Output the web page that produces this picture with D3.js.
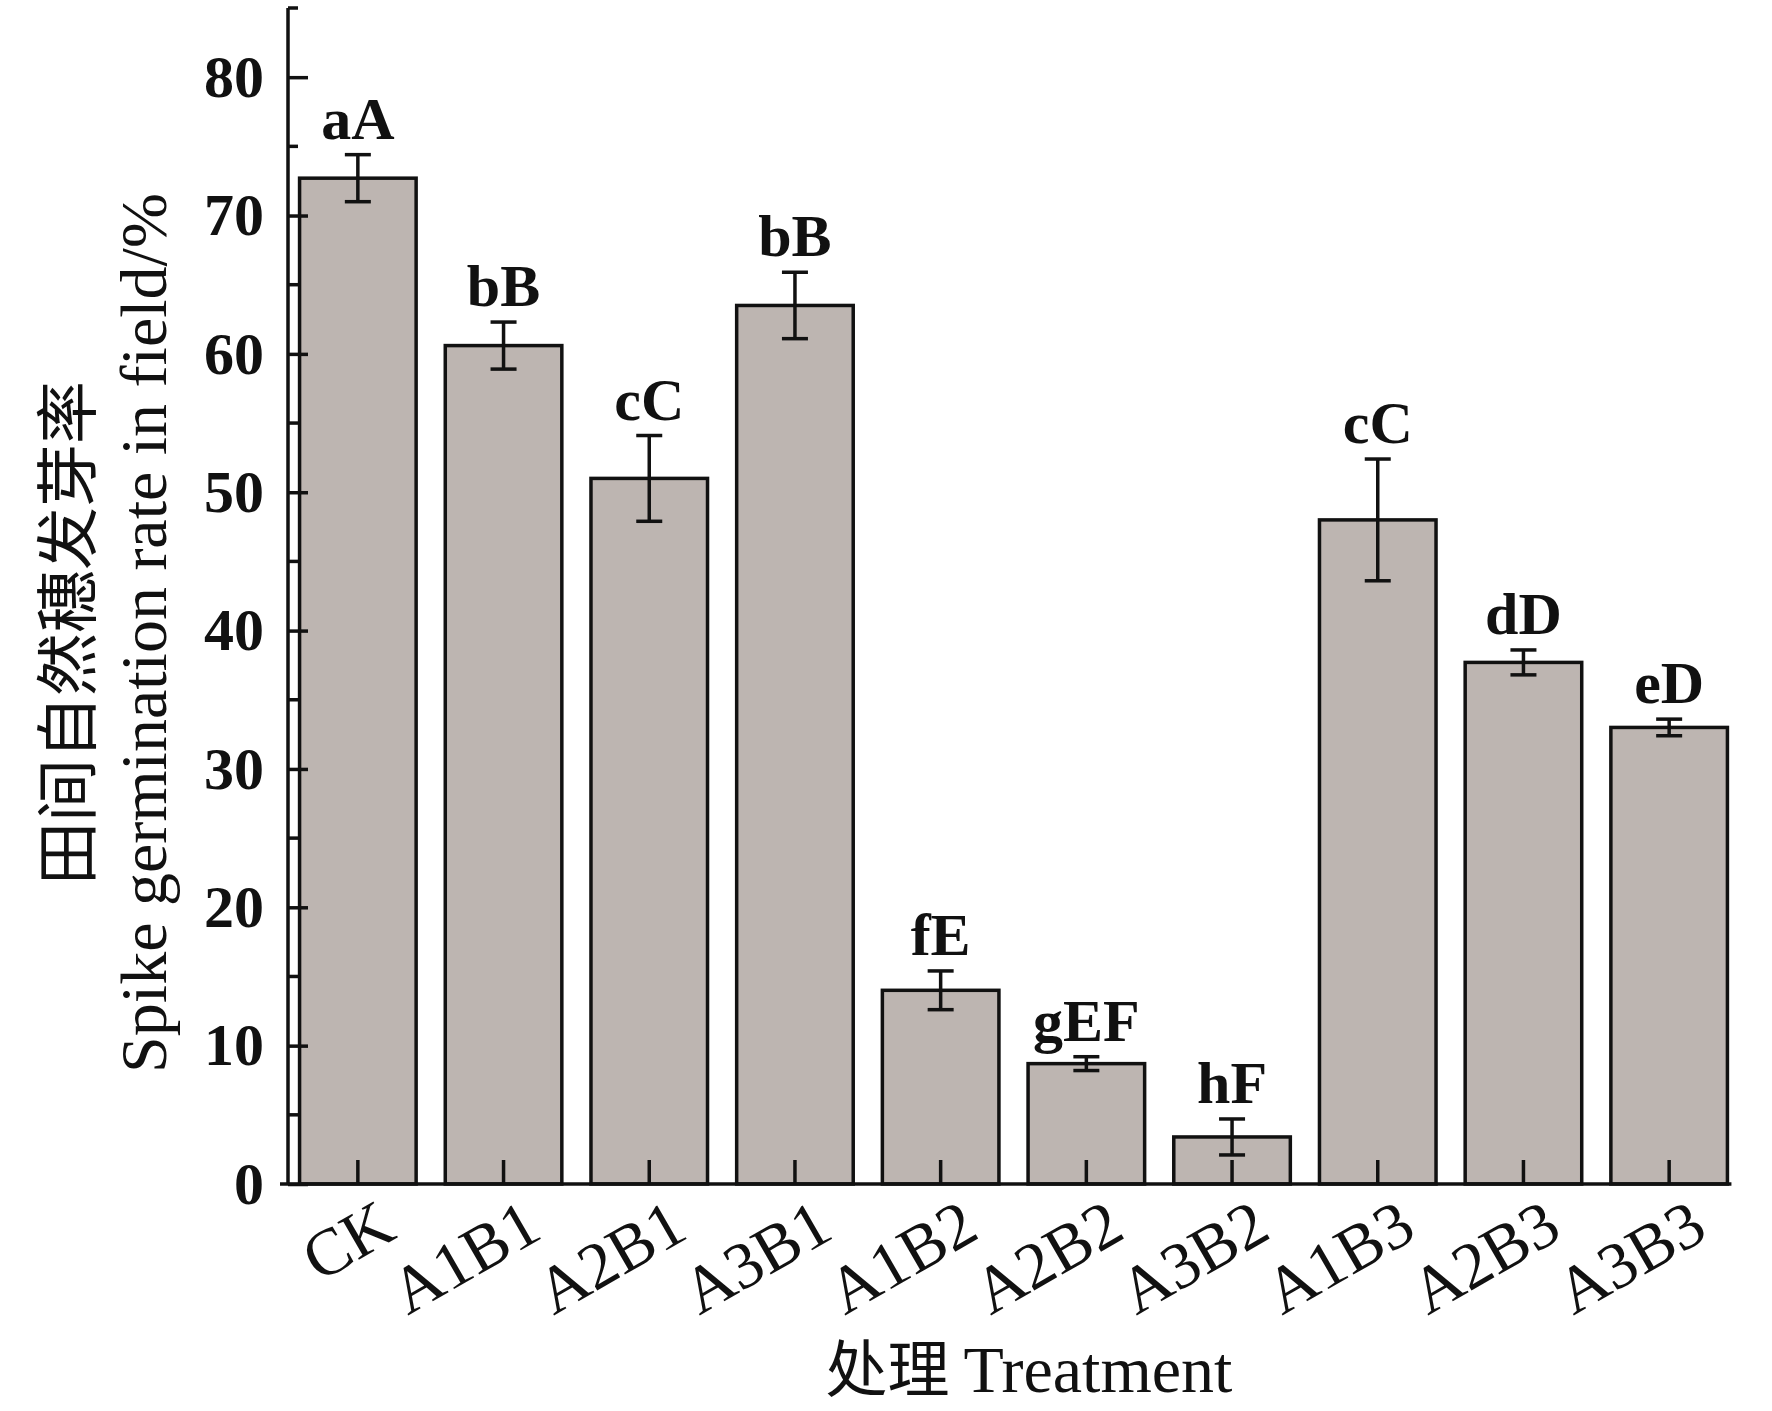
<html>
  <head>
    <meta charset="utf-8">
    <script src="https://d3js.org/d3.v7.min.js"></script>
    <style>
      body { margin: 0; background: #fff; }
      text { font-family: "Liberation Serif", "Times New Roman", serif; fill: #111; }
      .cjk { font-family: "Noto Sans CJK SC", sans-serif; }
    </style>
  </head>
  <body>
    <div id="my_dataviz"></div>
  </body>

  <script>
    // data
    const treatments = ['CK', 'A1B1', 'A2B1', 'A3B1', 'A1B2', 'A2B2', 'A3B2', 'A1B3', 'A2B3', 'A3B3']
    const rates = [72.7, 60.6, 51.0, 63.5, 14.0, 8.7, 3.4, 48.0, 37.7, 33.0]
    const errs = [1.7, 1.7, 3.1, 2.4, 1.4, 0.5, 1.3, 4.4, 0.9, 0.6]
    const letters = ['aA', 'bB', 'cC', 'bB', 'fE', 'gEF', 'hF', 'cC', 'dD', 'eD']
    const yTicks = [0, 10, 20, 30, 40, 50, 60, 70, 80]

    const W = 1772, H = 1411
    const axisX = 288, axisY = 1184

    const svg = d3.select("#my_dataviz")
      .append("svg")
        .attr("width", W)
        .attr("height", H)

    const x = d3.scaleBand()
      .domain(treatments)
      .range([285, 285 + 1457])
      .paddingInner(0.2)
      .paddingOuter(0.1)

    const y = d3.scaleLinear()
      .domain([0, 85])
      .range([axisY, 8])

    const data = treatments.map((t, i) => ({name: t, v: rates[i], e: errs[i], l: letters[i]}))

    // bars
    svg.selectAll("rect.bar")
      .data(data)
      .join("rect")
        .attr("class", "bar")
        .attr("x", d => x(d.name))
        .attr("y", d => y(d.v))
        .attr("width", x.bandwidth())
        .attr("height", d => y(0) - y(d.v))
        .style("fill", "#bdb5b1")
        .style("stroke", "#111")
        .style("stroke-width", 3.5)

    // error bars
    const eb = svg.selectAll("g.err")
      .data(data)
      .join("g")
        .attr("class", "err")
        .attr("transform", d => `translate(${x(d.name) + x.bandwidth() / 2},0)`)
        .style("stroke", "#111")
        .style("stroke-width", 3.5)
    eb.append("line").attr("y1", d => y(d.v + d.e)).attr("y2", d => y(d.v - d.e))
    eb.append("line").attr("x1", -13).attr("x2", 13).attr("y1", d => y(d.v + d.e)).attr("y2", d => y(d.v + d.e))
    eb.append("line").attr("x1", -13).attr("x2", 13).attr("y1", d => y(d.v - d.e)).attr("y2", d => y(d.v - d.e))

    // significance letters
    svg.selectAll("text.sig")
      .data(data)
      .join("text")
        .attr("class", "sig")
        .attr("x", d => x(d.name) + x.bandwidth() / 2)
        .attr("y", d => y(d.v + d.e) - 16)
        .attr("text-anchor", "middle")
        .attr("font-size", "60px")
        .attr("font-weight", "bold")
        .text(d => d.l)

    // y axis, ticks pointing inward
    const yAxis = svg.append("g")
      .attr("transform", `translate(${axisX},0)`)
      .call(d3.axisLeft(y).tickValues(yTicks).tickSize(-20).tickPadding(24).tickSizeOuter(0))
    yAxis.select(".domain").remove()
    yAxis.selectAll("line").style("stroke", "#111").style("stroke-width", 3.5)
    yAxis.selectAll("text")
      .attr("font-size", "60px")
      .attr("font-weight", "bold")
      .style("font-family", "Liberation Serif")
    yAxis.append("line")
      .attr("y1", y(85)).attr("y2", axisY)
      .style("stroke", "#111").style("stroke-width", 3.5)
    yAxis.selectAll("line.minor")
      .data(d3.range(5, 90, 10))
      .join("line")
        .attr("class", "minor")
        .attr("x2", 10)
        .attr("y1", d => y(d)).attr("y2", d => y(d))
        .style("stroke", "#111").style("stroke-width", 3.5)

    // x axis, ticks pointing up into the bars
    const xAxis = svg.append("g")
      .attr("transform", `translate(0,${axisY})`)
      .call(d3.axisBottom(x).tickSize(-24).tickSizeOuter(0).tickPadding(0))
    xAxis.select(".domain").remove()
    xAxis.append("line")
      .attr("x1", axisX - 8).attr("x2", x(treatments[9]) + x.bandwidth() + 4)
      .style("stroke", "#111").style("stroke-width", 3.5)
    xAxis.selectAll(".tick line").style("stroke", "#111").style("stroke-width", 3.5)
    xAxis.selectAll(".tick text")
      .attr("font-size", "66px")
      .style("font-family", "Liberation Serif")
      .attr("text-anchor", "end")
      .attr("transform", "translate(16,10) rotate(-30)")
      .attr("y", 0).attr("dy", "0.75em")

    // axis titles
    svg.append("text")
      .attr("transform", "translate(166,633) rotate(-90)")
      .attr("text-anchor", "middle")
      .attr("font-size", "66px")
      .text("Spike germination rate in field/%")
    svg.append("text")
      .attr("class", "cjk")
      .attr("transform", "translate(90,633) rotate(-90)")
      .attr("text-anchor", "middle")
      .attr("font-size", "63px")
      .text("田间自然穗发芽率")

    const xt = svg.append("text")
      .attr("x", 1029).attr("y", 1392)
      .attr("text-anchor", "middle")
      .attr("font-size", "66px")
    xt.append("tspan").attr("class", "cjk").attr("font-size", "62px").text("处理 ")
    xt.append("tspan").text("Treatment")
  </script>
</html>
